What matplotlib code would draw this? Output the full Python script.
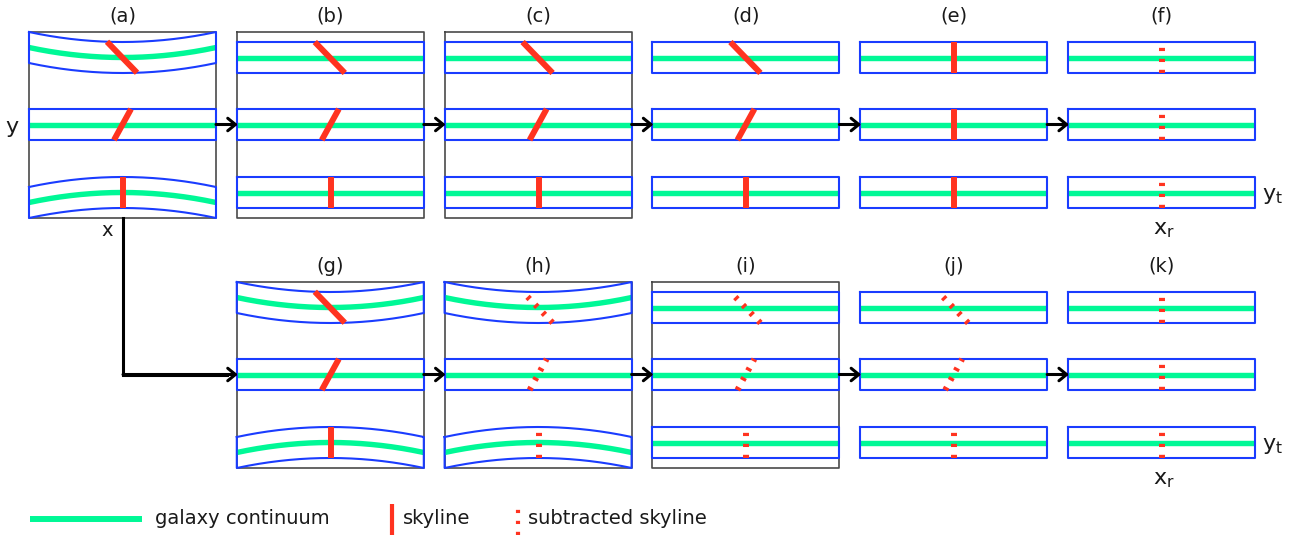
import matplotlib
matplotlib.use("Agg")
import matplotlib.pyplot as plt
import numpy as np

plt.rcParams['lines.scale_dashes'] = False
plt.rcParams['font.family'] = ['DejaVu Sans']
plt.rcParams['mathtext.fontset'] = 'dejavusans'

# ---- panel data ----
panel_labels = ['(a)', '(b)', '(c)', '(d)', '(e)', '(f)',
                '(g)', '(h)', '(i)', '(j)', '(k)']
panel_row = [0, 0, 0, 0, 0, 0, 1, 1, 1, 1, 1]
panel_col = [0, 1, 2, 3, 4, 5, 1, 2, 3, 4, 5]
panel_box = [1, 1, 1, 0, 0, 0, 1, 1, 1, 0, 0]
panel_curved = [1, 0, 0, 0, 0, 0, 1, 1, 0, 0, 0]
panel_tilted = [1, 1, 1, 1, 0, 0, 1, 1, 1, 1, 0]
panel_subtracted = [0, 0, 0, 0, 0, 1, 0, 1, 1, 1, 1]

# per-slit properties (top, middle, bottom slit)
slit_curvature = [10, 0, -10]          # sag of curved slits
skyline_x_top = [78, 102, 94]          # tilted skyline x at slit top
skyline_x_bot = [108, 85, 94]          # tilted skyline x at slit bottom
skyline_x_straight = 94                # rectified skyline x

legend_labels = ['galaxy continuum', 'skyline', 'subtracted skyline']

# ---- style / layout ----
GREEN = '#00f896'
RED = '#ff3320'
BLUE = '#1a3cff'
BOXC = '#4a4a4a'
TXT = '#1a1a1a'
X0, XSTEP, W = 29, 207.8, 187
ROW_TOP = [32, 282]
BOX_H = 186
SLIT_TOP = [10, 77, 145]
SLIT_H = 31
FS = 14
DASH = (0, (2.3, 5.6))

fig = plt.figure(figsize=(13.03, 5.35), dpi=100)
ax = fig.add_axes([0, 0, 1, 1])
ax.set_xlim(0, 1303)
ax.set_ylim(535, 0)
ax.axis('off')


def edge(x, xl, ys, c):
    u = (x - (xl + W / 2)) / (W / 2)
    return ys - c * u ** 2


for i, lab in enumerate(panel_labels):
    xl = X0 + panel_col[i] * XSTEP
    yt = ROW_TOP[panel_row[i]]
    xs = np.linspace(xl, xl + W, 200)
    if panel_box[i]:
        ax.plot([xl, xl + W, xl + W, xl, xl], [yt, yt, yt + BOX_H, yt + BOX_H, yt],
                color=BOXC, lw=1.2, zorder=1)
    ax.text(xl + W / 2, yt - 16, lab, ha='center', va='center', fontsize=FS,
            color=TXT)
    for s in range(3):
        c = slit_curvature[s] if panel_curved[i] else 0
        ytop = yt + SLIT_TOP[s]
        ybot = ytop + SLIT_H
        top = edge(xs, xl, ytop, c)
        bot = edge(xs, xl, ybot, c)
        mid = edge(xs, xl, ytop + SLIT_H / 2, c)
        ax.plot(xs, mid, color=GREEN, lw=3.9, solid_capstyle='butt', zorder=2)
        ax.plot(np.r_[xs, xs[::-1], xs[0]], np.r_[top, bot[::-1], top[0]],
                color=BLUE, lw=1.5, zorder=3)
        if panel_tilted[i]:
            xa, xb = xl + skyline_x_top[s], xl + skyline_x_bot[s]
        else:
            xa = xb = xl + skyline_x_straight
        ya = edge(xa, xl, ytop, c)
        yb = edge(xb, xl, ybot, c)
        ls = DASH if panel_subtracted[i] else '-'
        ax.plot([xb, xa], [yb, ya], color=RED, lw=4.3, ls=ls,
                solid_capstyle='butt', dash_capstyle='butt', zorder=4)

# arrows between panels
arrow_kw = dict(arrowstyle='->,head_length=0.55,head_width=0.45', lw=2.2,
                color='black', shrinkA=0, shrinkB=0)
for r in range(2):
    yc = ROW_TOP[r] + SLIT_TOP[1] + SLIT_H / 2
    for col in range(1 if r == 1 else 0, 5):
        xr = X0 + col * XSTEP + W
        xn = X0 + (col + 1) * XSTEP
        ax.annotate('', xy=(xn + 1, yc), xytext=(xr, yc), arrowprops=arrow_kw,
                    zorder=5)

# L-shaped path from (a) to (g)
xv = X0 + skyline_x_straight
y2 = ROW_TOP[1] + SLIT_TOP[1] + SLIT_H / 2
ax.plot([xv, xv, X0 + XSTEP - 10], [ROW_TOP[0] + BOX_H, y2, y2], color='black',
        lw=2.2, solid_joinstyle='miter', zorder=5)
ax.annotate('', xy=(X0 + XSTEP + 1, y2), xytext=(xv, y2), arrowprops=arrow_kw,
            zorder=5)

# axis labels
ax.text(12, 127, 'y', ha='center', va='center', fontsize=FS + 2, color=TXT)
ax.text(107, 230, 'x', ha='center', va='center', fontsize=FS, color=TXT)
xf = X0 + 5 * XSTEP
for r in range(2):
    ax.text(xf + W + 7, ROW_TOP[r] + SLIT_TOP[2] + SLIT_H / 2 + 3,
            r'$\mathregular{y_t}$', ha='left', va='center', fontsize=FS + 2,
            color=TXT)
    ax.text(xf + skyline_x_straight + 2, ROW_TOP[r] + BOX_H + 12,
            r'$\mathregular{x_r}$', ha='center', va='center', fontsize=FS + 2,
            color=TXT)

# legend
ly = 519
ax.plot([30, 142], [ly, ly], color=GREEN, lw=4.3, solid_capstyle='butt')
ax.text(155, ly, legend_labels[0], ha='left', va='center', fontsize=FS,
        color=TXT)
ax.plot([392, 392], [535, 504], color=RED, lw=3.0, solid_capstyle='butt')
ax.text(403, ly, legend_labels[1], ha='left', va='center', fontsize=FS,
        color=TXT)
ax.plot([518, 518], [535, 504], color=RED, lw=3.0, ls=DASH, dash_capstyle='butt')
ax.text(528, ly, legend_labels[2], ha='left', va='center', fontsize=FS,
        color=TXT)

fig.savefig('out.png', dpi=100)
